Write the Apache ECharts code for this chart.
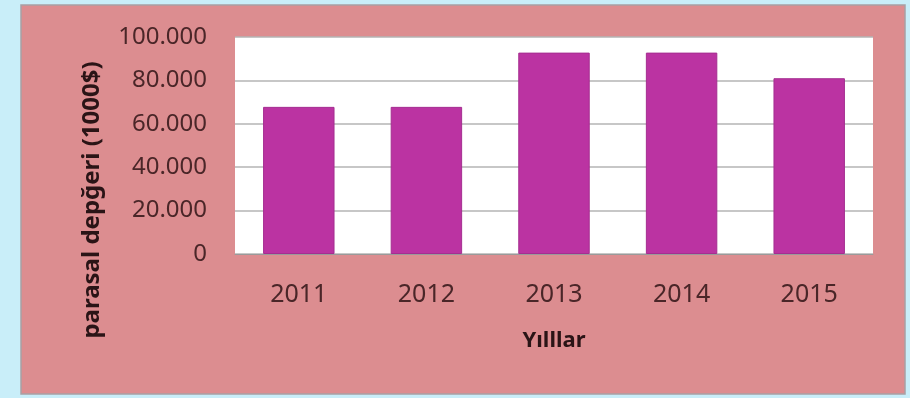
<!DOCTYPE html>
<html>
<head>
<meta charset="utf-8">
<script src="https://cdn.jsdelivr.net/npm/echarts@6/dist/echarts.min.js"></script>
<style>
  html, body { margin: 0; padding: 0; background: #c9eef9; }
  #chart { width: 910px; height: 398px; }
</style>
</head>
<body>
<div id="chart"></div>
<script>
// yillar ve parasal degerler (1000$)
var years = ['2011', '2012', '2013', '2014', '2015'];
var values = [67800, 67800, 92800, 92800, 81000];
var yTicks = ['0', '20.000', '40.000', '60.000', '80.000', '100.000'];

var chart = echarts.init(document.getElementById('chart'));
var font = 'Noto Sans';

var option = {
  backgroundColor: '#c9eef9',
  animation: false,
  graphic: [
    {
      type: 'rect',
      shape: { x: 21, y: 5, width: 884, height: 389 },
      style: { fill: '#dc8d90', stroke: '#a8a0a4', lineWidth: 1.5 },
      z: -10
    },
    {
      type: 'text',
      x: 92,
      y: 200,
      rotation: Math.PI / 2,
      style: {
        text: 'parasal depğeri (1000$)',
        font: 'bold 24px "Noto Sans"',
        fill: '#2a1416',
        align: 'center',
        verticalAlign: 'middle'
      }
    }
  ],
  grid: {
    left: 235, right: 37, top: 37, bottom: 144,
    show: true, backgroundColor: '#ffffff', borderWidth: 0
  },
  xAxis: {
    type: 'category',
    data: years,
    name: 'Yılllar',
    nameLocation: 'middle',
    nameGap: 76,
    nameTextStyle: { fontFamily: font, fontWeight: 'bold', fontSize: 22, color: '#2a1416' },
    axisTick: { show: false },
    axisLine: { lineStyle: { color: '#9a9a9a', width: 1 } },
    axisLabel: { fontFamily: font, fontSize: 25, color: '#4a2628', margin: 28 }
  },
  yAxis: {
    type: 'value',
    min: 0,
    max: 100000,
    interval: 20000,
    axisLine: { show: false },
    axisTick: { show: false },
    splitLine: { lineStyle: { color: '#b4b4b4', width: 1.5 } },
    axisLabel: {
      fontFamily: font, fontSize: 24, color: '#4a2628', margin: 28,
      formatter: function (v) { return yTicks[Math.round(v / 20000)]; }
    }
  },
  series: [{
    type: 'bar',
    data: values,
    barWidth: '56%',
    itemStyle: { color: '#bb33a2', borderColor: '#a52e90', borderWidth: 1 }
  }]
};

chart.setOption(option);
</script>
</body>
</html>
